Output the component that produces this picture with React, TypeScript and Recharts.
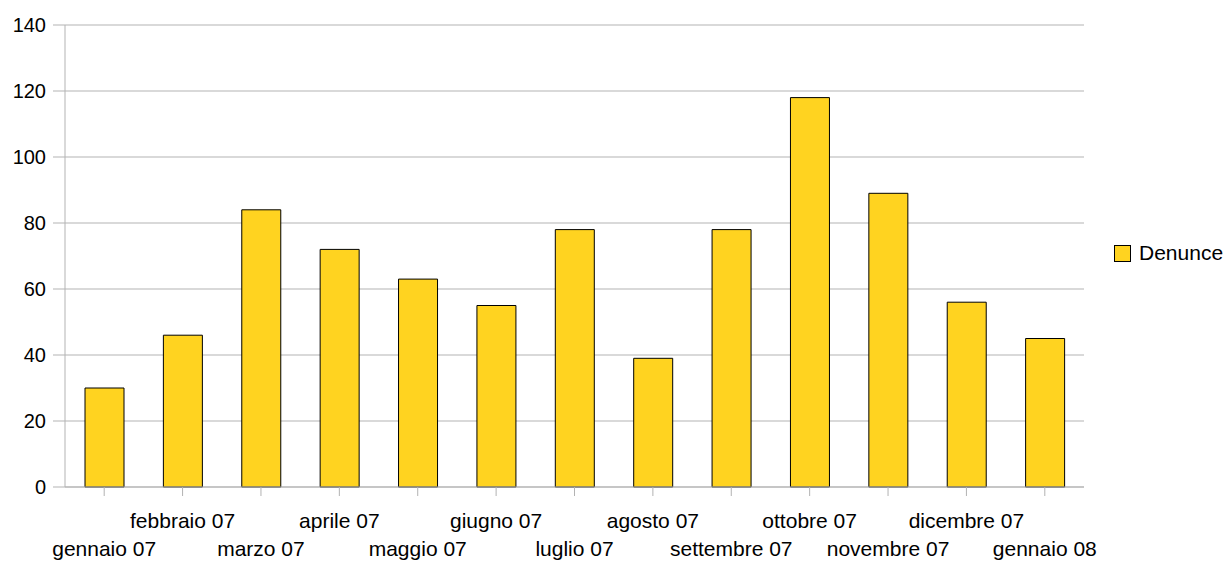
import { Bar, BarChart, CartesianGrid, XAxis, YAxis } from "recharts";

const months = [
  "gennaio 07",
  "febbraio 07",
  "marzo 07",
  "aprile 07",
  "maggio 07",
  "giugno 07",
  "luglio 07",
  "agosto 07",
  "settembre 07",
  "ottobre 07",
  "novembre 07",
  "dicembre 07",
  "gennaio 08",
];

const denunce = [30, 46, 84, 72, 63, 55, 78, 39, 78, 118, 89, 56, 45];

const yTicks = [0, 20, 40, 60, 80, 100, 120, 140];

const data = months.map((month, i) => ({ month, denunce: denunce[i] }));

const FONT = '"Liberation Sans", Arial, sans-serif';
const GRID = "#b3b3b3";
const BAR = "#ffd320";

function MonthTick({ x, y, payload, index }: { x?: number; y?: number; payload?: { value: string }; index?: number }) {
  const row = (index ?? 0) % 2 === 1 ? 30 : 58;
  return (
    <text x={x} y={(y ?? 0) + row} textAnchor="middle" fill="#000" fontSize={21} fontFamily={FONT}>
      {payload?.value}
    </text>
  );
}

export default function App() {
  return (
    <div style={{ position: "absolute", left: 0, top: 0, width: 1226, height: 561, background: "#fff" }}>
      <BarChart width={1226} height={561} data={data} margin={{ top: 25, right: 142, left: 0, bottom: 0 }}>
        <CartesianGrid stroke={GRID} vertical={false} />
        <XAxis
          dataKey="month"
          interval={0}
          height={74}
          tickSize={9}
          tickMargin={2}
          stroke={GRID}
          tickLine={{ stroke: GRID }}
          tick={<MonthTick />}
        />
        <YAxis
          domain={[0, 140]}
          ticks={yTicks}
          width={65}
          tickSize={12}
          tickMargin={7}
          stroke={GRID}
          tickLine={{ stroke: GRID }}
          tick={{ fill: "#000", fontSize: 20, fontFamily: FONT }}
        />
        <YAxis yAxisId="right" orientation="right" width={0} tick={false} tickLine={false} stroke={GRID} />
        <Bar dataKey="denunce" fill={BAR} stroke="#000" strokeWidth={1} barSize={39} isAnimationActive={false} />
      </BarChart>
      <div
        style={{
          position: "absolute",
          left: 1114,
          top: 241,
          display: "flex",
          alignItems: "center",
          fontFamily: FONT,
          fontSize: 21,
          color: "#000",
          whiteSpace: "nowrap",
        }}
      >
        <span
          style={{
            display: "inline-block",
            width: 15,
            height: 15,
            background: BAR,
            border: "1px solid #000",
            marginRight: 8,
          }}
        />
        Denunce
      </div>
    </div>
  );
}
